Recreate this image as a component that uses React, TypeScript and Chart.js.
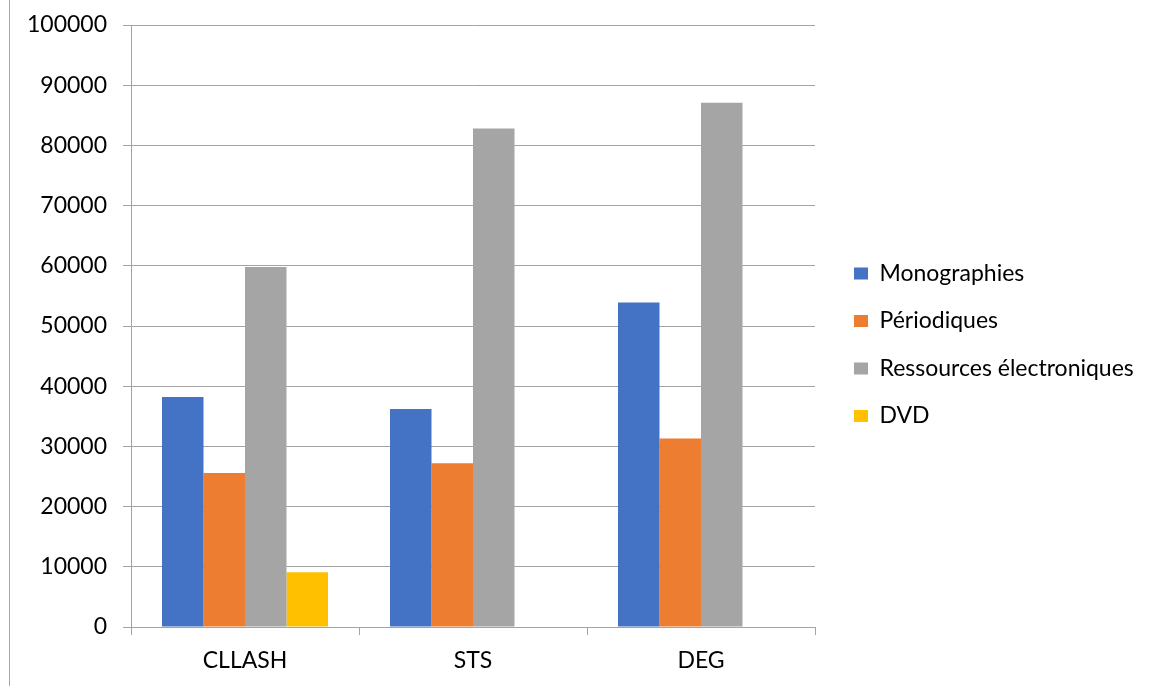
import React, { useEffect, useRef } from 'react';
import { Chart, registerables } from 'chart.js';

Chart.register(...registerables);

const categories = ['CLLASH', 'STS', 'DEG'];
const seriesNames = ['Monographies', 'Périodiques', 'Ressources électroniques', 'DVD'];
const monographies = [38200, 36200, 53900];
const periodiques = [25600, 27200, 31300];
const ressources = [59800, 82800, 87100];
const dvd: (number | null)[] = [9100, null, null];
const seriesColors = ['#4472C4', '#ED7D31', '#A5A5A5', '#FFC000'];
const yMin = 0;
const yMax = 100000;
const yStep = 10000;

const GRID = '#a3a3a3';
const FONT_SIZE = 23;
const FONT = { family: 'Lato', size: FONT_SIZE };
const TEXT = '#000000';

const W = 1165;
const H = 686;
const LEG_PAD = 24.5;
const BOX_W = 14;
const BOX_H = 12;
const LEG_LEFT = 829.5;

const framePlugin = {
  id: 'frame',
  beforeDraw(chart: any) {
    const ctx = chart.ctx;
    ctx.save();
    ctx.fillStyle = '#ffffff';
    ctx.fillRect(0, 0, chart.width, chart.height);
    ctx.strokeStyle = '#a6a6a6';
    ctx.lineWidth = 1;
    ctx.beginPath();
    ctx.moveTo(9.5, 0);
    ctx.lineTo(9.5, chart.height);
    ctx.stroke();
    ctx.restore();
  },
};

export default function App() {
  const ref = useRef<HTMLCanvasElement>(null);

  useEffect(() => {
    const mc = document.createElement('canvas').getContext('2d') as CanvasRenderingContext2D;
    mc.font = `${FONT_SIZE}px Lato`;
    const maxText = Math.max(...seriesNames.map((n) => mc.measureText(n).width));
    const legendW = LEG_PAD + BOX_W + FONT_SIZE / 2 + maxText + 10;
    const padRight = Math.max(0, W - LEG_LEFT - legendW);

    const values = [monographies, periodiques, ressources, dvd];
    const chart = new Chart(ref.current as HTMLCanvasElement, {
      type: 'bar',
      data: {
        labels: categories,
        datasets: seriesNames.map((name, i) => ({
          label: name,
          data: values[i] as any,
          backgroundColor: seriesColors[i],
          borderWidth: 0,
          categoryPercentage: 0.728,
          barPercentage: 1,
          yAxisID: 'y',
        })),
      },
      options: {
        responsive: false,
        animation: false,
        layout: { padding: { left: 0, top: 0, right: padRight, bottom: -3.5 } },
        plugins: {
          tooltip: { enabled: false },
          legend: {
            position: 'right',
            maxWidth: legendW + 1,
            labels: {
              boxWidth: BOX_W,
              boxHeight: BOX_H,
              padding: LEG_PAD,
              color: TEXT,
              font: FONT,
            },
          },
        },
        scales: {
          x: {
            offset: true,
            grid: {
              offset: true,
              drawOnChartArea: false,
              drawTicks: true,
              tickLength: 8,
              color: GRID,
            },
            border: { display: true, color: GRID },
            ticks: { color: TEXT, font: FONT, padding: 12 },
            afterFit: (s: any) => {
              s.height = 62.5;
              s.paddingLeft = 0;
              s.paddingRight = 0;
              s.paddingTop = 0;
              s.paddingBottom = 0;
            },
          },
          y: {
            min: yMin,
            max: yMax,
            ticks: {
              stepSize: yStep,
              color: TEXT,
              font: FONT,
              padding: 16,
              callback: (v: any) => String(v),
            },
            grid: { color: GRID, tickLength: 8 },
            border: { display: true, color: GRID },
            afterFit: (s: any) => {
              s.width = 131;
              s.paddingTop = 25;
              s.paddingBottom = 0;
            },
          },
          spacer: {
            type: 'linear',
            position: 'right',
            display: true,
            grid: { display: false },
            border: { display: false },
            ticks: { display: false },
            afterFit: (s: any) => {
              s.width = 14.5;
              s.paddingTop = 0;
              s.paddingBottom = 0;
            },
          },
        } as any,
      },
      plugins: [framePlugin],
    });
    return () => chart.destroy();
  }, []);

  return (
    <div style={{ position: 'absolute', left: 0, top: 0, width: W, height: H, background: '#fff' }}>
      <canvas ref={ref} width={W} height={H} style={{ width: W, height: H, display: 'block' }} />
    </div>
  );
}
